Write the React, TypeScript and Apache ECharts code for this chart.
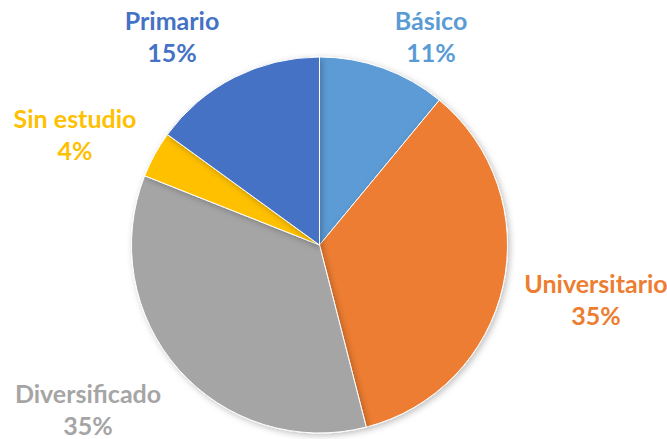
import React, { useEffect, useRef } from "react";
import * as echarts from "echarts";

const categories = ["Básico", "Universitario", "Diversificado", "Sin estudio", "Primario"];
const values = [11, 35, 35, 4, 15];
const colors = ["#5B9BD5", "#ED7D31", "#A5A5A5", "#FFC000", "#4472C4"];
const labelCenters = [
  [431, 36],
  [596, 299],
  [88, 409],
  [75, 134],
  [172, 36],
];

export default function App() {
  const ref = useRef<HTMLDivElement>(null);
  useEffect(() => {
    if (!ref.current) return;
    const chart = echarts.init(ref.current, null, { renderer: "svg" });
    chart.setOption({
      animation: false,
      backgroundColor: "#ffffff",
      series: [
        {
          type: "pie",
          center: [319.5, 245],
          radius: 188,
          startAngle: 90,
          clockwise: true,
          data: categories.map((n, i) => ({
            name: n,
            value: values[i],
            itemStyle: { color: colors[i] },
            label: { color: colors[i] },
          })),
          itemStyle: {
            borderColor: "#ffffff",
            borderWidth: 1,
            shadowBlur: 6,
            shadowColor: "rgba(0,0,0,0.25)",
            shadowOffsetX: 2,
            shadowOffsetY: 2,
          },
          label: {
            show: true,
            position: "outside",
            formatter: "{b}\n{c}%",
            fontFamily: "Lato",
            fontWeight: "bold",
            fontSize: 25,
            lineHeight: 32,
            align: "center",
            overflow: "none",
            width: 200,
          },
          labelLine: { show: false },
          labelLayout: (params: any) => {
            const c = labelCenters[params.dataIndex];
            return { x: c[0], y: c[1], align: "center", verticalAlign: "middle", hideOverlap: false };
          },
          emphasis: { disabled: true },
        },
      ],
    });
    return () => chart.dispose();
  }, []);
  return (
    <div
      ref={ref}
      style={{ position: "fixed", left: 0, top: 0, width: 667, height: 439 }}
    />
  );
}
